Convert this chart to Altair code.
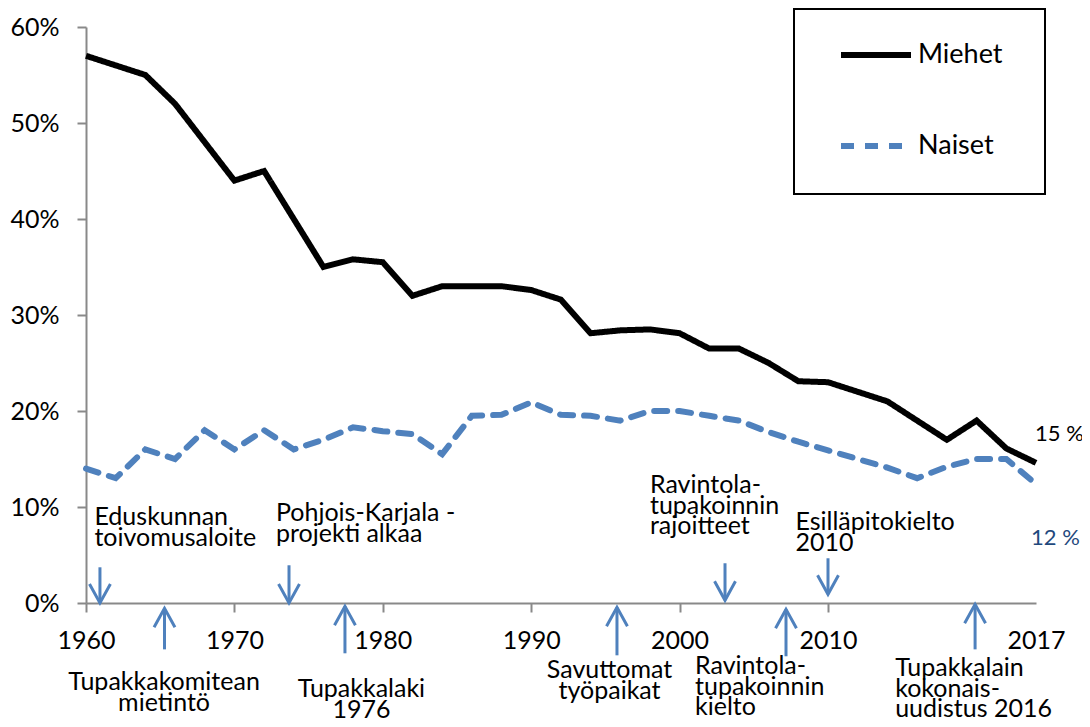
import altair as alt
import pandas as pd

# ---------------- data ----------------
years = [1960, 1962, 1964, 1966, 1968, 1970, 1972, 1974, 1976, 1978,
         1980, 1982, 1984, 1986, 1988, 1990, 1992, 1994, 1996, 1998,
         2000, 2002, 2004, 2006, 2008, 2010, 2011, 2012, 2013, 2014,
         2015, 2016, 2017]
miehet = [57.0, 56.0, 55.0, 52.0, 48.0, 44.0, 45.0, 40.0, 35.0, 35.8,
          35.5, 32.0, 33.0, 33.0, 33.0, 32.6, 31.6, 28.1, 28.4, 28.5,
          28.1, 26.5, 26.5, 25.0, 23.1, 23.0, 22.0, 21.0, 19.0, 17.0,
          19.0, 16.1, 14.6]
naiset = [14.0, 13.0, 16.0, 15.0, 18.0, 16.0, 18.0, 16.0, 17.0, 18.3,
          17.9, 17.6, 15.5, 19.5, 19.6, 20.9, 19.6, 19.5, 19.0, 20.0,
          20.0, 19.5, 19.0, 17.8, 16.8, 15.9, 15.0, 14.1, 13.0, 14.2,
          15.0, 15.0, 12.4]
series_names = ["Miehet", "Naiset"]

tick_years = [1960, 1970, 1980, 1990, 2000, 2010, 2017]
y_ticks = [0, 10, 20, 30, 40, 50, 60]

# event annotations (text anchored in data coordinates: year, percent)
ann_text = [
    "Eduskunnan\ntoivomusaloite",
    "Pohjois-Karjala -\nprojekti alkaa",
    "Ravintola-\ntupakoinnin\nrajoitteet",
    "Esilläpitokielto\n\u00a02010",
    "Tupakkakomitean\nmietintö",
    "Tupakkalaki\n1976",
    "Savuttomat\ntyöpaikat",
    "Ravintola-\ntupakoinnin\nkielto",
    "Tupakkalain\nkokonais-\nuudistus 2016",
]
ann_year = [1960.57, 1972.80, 1998.0, 2007.81, 1965.26, 1978.56, 1995.28, 2001.04, 2012.26]
ann_pct = [8.10, 8.51, 11.43, 7.58, -9.10, -9.83, -7.85, -7.44, -7.64]
ann_align = ["left", "left", "left", "left", "center", "center", "center", "left", "left"]

# event arrows (from -> to, the arrow head is at "to")
arrow_year = [1960.94, 1973.68, 2003.06, 2010.0, 1965.29, 1977.45, 1995.78, 2007.17, 2014.95]
arrow_from = [3.72, 3.93, 4.14, 4.66, -4.83, -5.24, -5.45, -5.55, -4.83]
arrow_to = [0.0, 0.0, 0.28, 0.91, -0.55, -0.34, -0.45, -0.66, -0.14]

# ---------------- frames ----------------
rows = []
for yr, m, n in zip(years, miehet, naiset):
    rows.append({"year": yr, "series": series_names[0], "value": m})
    rows.append({"year": yr, "series": series_names[1], "value": n})
df = pd.DataFrame(rows)
ann = pd.DataFrame({"text": ann_text, "year": ann_year, "pct": ann_pct, "align": ann_align})
arr = pd.DataFrame({"year": arrow_year, "from": arrow_from, "to": arrow_to})

BLUE = "#4F81BD"
AXIS_GRAY = "#898989"
FONT = "Lato"

xscale = alt.Scale(domain=[1960, 2010, 2017], range=[0, 742, 950], nice=False, zero=False)
yscale = alt.Scale(domain=[0, 60], nice=False, zero=False)

xaxis = alt.Axis(values=tick_years, format="d", labelFlush=False, tickSize=9,
                 labelPadding=16, labelFontSize=25, grid=False, title=None,
                 tickOpacity={"condition": {"test": "datum.value == 2017", "value": 0}, "value": 1})
yaxis = alt.Axis(values=y_ticks, labelExpr="datum.value + '%'", tickSize=9,
                 labelPadding=18, labelFontSize=25, grid=False, title=None)

X = alt.X("year:Q", scale=xscale, axis=xaxis, title=None)

legend = alt.Legend(
    title="M" * 60, titleOrient="bottom", titleAnchor="start", titleColor="white",
    titleFontSize=10, titlePadding=17, titleLimit=239,
    orient="none", legendX=708, legendY=-18, padding=8,
    strokeColor="black", fillColor="white", symbolType="stroke",
    symbolSize=4900, symbolStrokeWidth=6, symbolOffset=36, labelOffset=4,
    labelFontSize=27, labelFont=FONT, labelColor="black", rowPadding=40,
)
color = alt.Color("series:N", scale=alt.Scale(domain=series_names, range=["black", BLUE]), legend=legend)
dash = alt.StrokeDash("series:N", scale=alt.Scale(domain=series_names, range=[[1, 0], [13, 11]]), legend=legend)

base = alt.Chart(df)
men_line = base.transform_filter(alt.datum.series == "Miehet").mark_line(
    strokeWidth=6, strokeCap="butt").encode(
    x=X, y=alt.Y("value:Q", scale=yscale, axis=yaxis, title=None), color=color, strokeDash=dash)
women_line = base.transform_filter(alt.datum.series == "Naiset").mark_line(
    strokeWidth=6, strokeCap="round").encode(
    x=X, y=alt.Y("value:Q", scale=yscale, axis=yaxis, title=None), color=color, strokeDash=dash)

end = base.transform_filter("datum.year == 2017").transform_calculate(lbl="round(datum.value) + ' %'")
men_end = end.transform_filter(alt.datum.series == "Miehet").mark_text(
    align="left", baseline="middle", dx=-1, dy=-29, fontSize=22, font=FONT, color="black").encode(
    x=X, y=alt.Y("value:Q", scale=yscale, axis=yaxis, title=None), text="lbl:N")
women_end = end.transform_filter(alt.datum.series == "Naiset").mark_text(
    align="left", baseline="middle", dx=-5, dy=54, fontSize=22, font=FONT, color="#1F497D").encode(
    x=X, y=alt.Y("value:Q", scale=yscale, axis=yaxis, title=None), text="lbl:N")

ann_base = alt.Chart(ann)
ann_left = ann_base.transform_filter(alt.datum.align == "left").mark_text(
    align="left", baseline="alphabetic", lineBreak="\n", fontSize=25, lineHeight=20.5,
    font=FONT, color="black").encode(
    x=X, y=alt.Y("pct:Q", scale=yscale, axis=yaxis, title=None), text="text:N")
ann_center = ann_base.transform_filter(alt.datum.align == "center").mark_text(
    align="center", baseline="alphabetic", lineBreak="\n", fontSize=25, lineHeight=20.5,
    font=FONT, color="black").encode(
    x=X, y=alt.Y("pct:Q", scale=yscale, axis=yaxis, title=None), text="text:N")

arr_base = alt.Chart(arr)
shafts = arr_base.mark_rule(strokeWidth=3, color=BLUE).encode(
    x=X, y=alt.Y("from:Q", scale=yscale, axis=yaxis, title=None), y2="to:Q")
heads = arr_base.transform_calculate(
    shp="datum.to < datum.from ? 'M-0.55,-1L0,0L0.55,-1' : 'M-0.55,1L0,0L0.55,1'"
).mark_point(filled=False, strokeWidth=3, size=1444, color=BLUE, opacity=1).encode(
    x=X, y=alt.Y("to:Q", scale=yscale, axis=yaxis, title=None),
    shape=alt.Shape("shp:N", scale=None))

chart = alt.layer(shafts, heads, women_line, men_line, men_end, women_end, ann_left, ann_center).properties(
    width=950, height=576,
    autosize=alt.AutoSizeParams(type="none"),
    padding={"left": 78, "top": 19, "right": 46, "bottom": 116},
).configure_view(stroke=None).configure_axis(
    domainColor=AXIS_GRAY, domainWidth=2, tickColor=AXIS_GRAY, tickWidth=2,
    labelColor="black", labelFont=FONT,
).configure_legend(strokeWidth=2)

chart.save("out.html", embed_options={"renderer": "svg", "actions": False})
